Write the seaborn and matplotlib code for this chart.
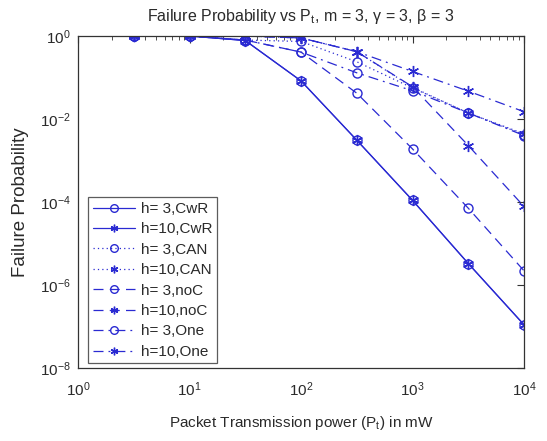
import numpy as np
import pandas as pd
import matplotlib
matplotlib.use('Agg')
import matplotlib.pyplot as plt
import matplotlib.ticker as mticker
import seaborn as sns

# transmission power points (mW)
power = [3.16, 10, 31.6, 100, 316, 1000, 3162, 10000]

# failure probability
cwr_h3 = [1, 1, 0.78, 0.083, 3.1e-3, 1.1e-4, 3.3e-6, 1.1e-7]
cwr_h10 = [1, 1, 0.78, 0.083, 3.1e-3, 1.1e-4, 3.3e-6, 1.1e-7]
can_h3 = [1, 1, 0.8, 0.74, 0.24, 0.056, 0.014, 4.2e-3]
can_h10 = [1, 1, 1, 0.9, 0.42, 0.058, 0.014, 4.4e-3]
noc_h3 = [1, 1, 0.8, 0.41, 0.042, 1.9e-3, 7.1e-5, 2.2e-6]
noc_h10 = [1, 1, 1, 0.9, 0.42, 0.06, 2.3e-3, 7.8e-5]
one_h3 = [1, 1, 0.8, 0.41, 0.13, 0.048, 0.014, 4.0e-3]
one_h10 = [1, 1, 1, 0.9, 0.42, 0.14, 0.047, 0.015]

labels = ['h= 3,CwR', 'h=10,CwR', 'h= 3,CAN', 'h=10,CAN',
          'h= 3,noC', 'h=10,noC', 'h= 3,One', 'h=10,One']

sns.set_style('white')
plt.rcParams['font.family'] = ['Liberation Sans', 'DejaVu Sans']
plt.rcParams['mathtext.fontset'] = 'custom'
plt.rcParams['mathtext.rm'] = 'Liberation Sans'
plt.rcParams['mathtext.it'] = 'Liberation Sans:italic'

blue = '#2a2ad2'
txt = '#2a2a2a'
series = [cwr_h3, cwr_h10, can_h3, can_h10, noc_h3, noc_h10, one_h3, one_h10]
styles = ['-', '-', (0, (1, 2.5)), (0, (1, 2.5)), (0, (8, 5)), (0, (8, 5)),
          (0, (8, 4, 1.5, 4)), (0, (8, 4, 1.5, 4))]
markers = ['o', (6, 2, 0), 'o', (6, 2, 0), 'o', (6, 2, 0), 'o', (6, 2, 0)]

fig = plt.figure(figsize=(5.47, 4.41), dpi=100)
ax = fig.add_axes([0.1426, 0.1655, 0.8154, 0.7528])

for vals, lab, ls, mk in zip(series, labels, styles, markers):
    df = pd.DataFrame({'P': power, 'F': vals})
    sns.lineplot(data=df, x='P', y='F', ax=ax, color=blue, linestyle=ls,
                 linewidth=0.9, marker=mk, markersize=6.5 if mk == 'o' else 8,
                 markerfacecolor='none', markeredgecolor=blue,
                 markeredgewidth=1.0, label=lab)

ax.set_xscale('log')
ax.set_yscale('log')
ax.set_xlim(1, 1e4)
ax.set_ylim(1e-8, 1)

ax.yaxis.set_major_locator(mticker.LogLocator(base=100, numticks=10))
ax.yaxis.set_minor_locator(mticker.NullLocator())
ax.xaxis.set_major_locator(mticker.LogLocator(base=10, numticks=10))
ax.xaxis.set_minor_locator(mticker.LogLocator(base=10, subs=np.arange(2, 10), numticks=20))
ax.xaxis.set_minor_formatter(mticker.NullFormatter())
ax.tick_params(which='both', direction='in', top=True, right=True,
               labelsize=11, colors='#333333', labelcolor=txt)
ax.tick_params(which='major', length=5)
ax.tick_params(which='minor', length=3)
ax.tick_params(axis='x', pad=9)
ax.tick_params(axis='y', pad=5)
for s in ax.spines.values():
    s.set_color('#333333')
    s.set_linewidth(0.9)

ax.set_title(r'Failure Probability vs P$_{\mathrm{t}}$, m = 3, γ = 3, β = 3',
             fontsize=11.5, color=txt, pad=11)
ax.set_xlabel(r'Packet Transmission power (P$_{\mathrm{t}}$) in mW',
              fontsize=11, color=txt)
ax.set_ylabel('Failure Probability', fontsize=13.5, color=txt)
ax.xaxis.set_label_coords(0.5, -0.14)
ax.yaxis.set_label_coords(-0.11, 0.5)

leg = ax.legend(loc='lower left', bbox_to_anchor=(0.012, 0.0), fontsize=11,
                frameon=True, fancybox=False, handlelength=2.8,
                borderpad=0.3, labelspacing=0.42, handletextpad=0.35,
                borderaxespad=0.3)
leg.get_frame().set_edgecolor('#333333')
leg.get_frame().set_linewidth(0.9)
for t in leg.get_texts():
    t.set_color(txt)
for h in leg.legend_handles:
    h.set_markersize(5.5)

fig.savefig('out.png', dpi=100, facecolor='white')
